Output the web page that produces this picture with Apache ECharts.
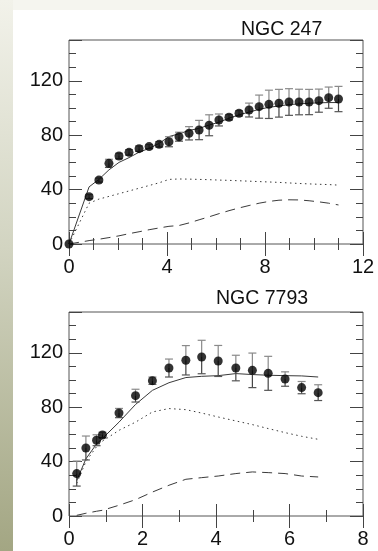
<!DOCTYPE html>
<html><head><meta charset="utf-8">
<script src="https://cdn.jsdelivr.net/npm/echarts@6/dist/echarts.min.js"></script>
<style>html,body{margin:0;padding:0;}#c{width:378px;height:551px;}</style>
</head><body><div id="c"></div>
<script>
// NGC 247
const titleA = 'NGC 247';
const xA = [0,0.82,1.22,1.63,2.04,2.45,2.86,3.27,3.68,4.08,4.49,4.9,5.31,5.72,6.12,6.53,6.94,7.35,7.76,8.16,8.57,8.98,9.39,9.8,10.2,10.6,11.0];
const vA = [0,34.8,47,59.3,64.7,67.4,70.1,71.6,73.3,75.2,78.9,81.4,83.8,87.3,91.2,93.2,96.1,98.5,101,102.7,103.5,104.4,104.4,104.4,105.4,107.6,106.6];
const eA = [0,1.5,1.5,3,2,2,2,1.5,2,3.7,3.3,4.9,7.1,7.7,4.4,2,2,5.1,8.5,10.4,10.2,9.8,9.4,9.3,8.5,7.8,9.3];
const totA = [0,42,47.5,54.5,60,63.5,67.5,70.3,74,79,81,83.5,85,87.5,89.5,92.5,95,97,99,100.5,101.5,102.5,103,103.5,103.8,104,104];
const diskA = [0,30,33,35,37,39,41,43,45,47.5,47.8,47.7,47.5,47.3,47,46.8,46.5,46.2,45.9,45.6,45.3,44.9,44.5,44.2,43.9,43.7,43.3];
const gasA = [0,2.5,3.5,4.7,6,7.6,9,10.5,11.8,13,13.6,15.5,17.8,20,22.3,24.5,26.5,28.3,30,31.3,32.2,32.5,32.4,31.8,31,30,28.7];
const xTicksA = [0,4,8,12];
// NGC 7793
const titleB = 'NGC 7793';
const xB = [0.21,0.46,0.75,0.91,1.36,1.81,2.27,2.72,3.18,3.61,4.06,4.54,4.99,5.42,5.88,6.33,6.78];
const vB = [31.2,50,55.7,59.6,75.7,88.5,99.5,108.8,114.5,116.9,114,108.8,107.1,104.9,100.7,94.4,90.7];
const eB = [9.2,8.8,4,2,3.4,4.7,2.7,6.6,10.8,12.3,11.4,9.4,12.7,12.5,5.3,4.5,5.8];
const totB = [26,42,53,57,69,82,92.4,98,101.8,102.7,103.2,104.7,104,103.5,103.2,103,102.2];
const diskB = [24,40,51,55,63,69,76.5,79,78.2,75.7,72.8,69.9,67.2,64.3,61.3,58.6,56.4];
const gasB = [0.5,2,3.5,4.2,7.9,12,17.6,22.6,27,28.2,29.4,31.2,32.4,31.9,31.2,29.4,28.7];
const xTicksB = [0,2,4,6,8];
const yTicks = [0,40,80,120];

const FONT = 'Liberation Sans, Arial, sans-serif';
const chart = echarts.init(document.getElementById('c'));
const pair = (xs, ys) => xs.map((x, i) => [x, ys[i]]);

function xAxes(gi, max, major, ticks) {
  const base = {gridIndex: gi, type: 'value', min: 0, max: max, axisLine: {show: false}, splitLine: {show: false}};
  return [
    Object.assign({}, base, {position: 'bottom', interval: major,
      axisTick: {inside: true, length: 12, lineStyle: {color: '#444'}},
      minorTick: {show: true, splitNumber: major, length: 6, lineStyle: {color: '#444'}},
      axisLabel: {margin: 13, fontSize: 20, color: '#111', fontFamily: FONT,
        formatter: v => ticks.indexOf(v) >= 0 ? String(v) : ''}}),
    Object.assign({}, base, {position: 'top', interval: major,
      axisTick: {inside: true, length: 12, lineStyle: {color: '#444'}},
      minorTick: {show: true, splitNumber: major, length: 6, lineStyle: {color: '#444'}},
      axisLabel: {show: false}})
  ];
}
function yAxes(gi) {
  const base = {gridIndex: gi, type: 'value', min: 0, max: 150, axisLine: {show: false}, splitLine: {show: false}};
  return [
    Object.assign({}, base, {position: 'left', interval: 40,
      axisTick: {inside: true, length: 13, lineStyle: {color: '#444'}},
      axisLabel: {margin: 6, fontSize: 20, color: '#111', fontFamily: FONT,
        formatter: v => yTicks.indexOf(v) >= 0 ? String(v) : ''}}),
    Object.assign({}, base, {position: 'left', interval: 10,
      axisTick: {inside: true, length: 7, lineStyle: {color: '#444'}}, axisLabel: {show: false}}),
    Object.assign({}, base, {position: 'right', interval: 40,
      axisTick: {inside: true, length: 13, lineStyle: {color: '#444'}}, axisLabel: {show: false}}),
    Object.assign({}, base, {position: 'right', interval: 10,
      axisTick: {inside: true, length: 7, lineStyle: {color: '#444'}}, axisLabel: {show: false}})
  ];
}

function errSeries(xi, yi, xs, vs, es) {
  return {
    type: 'custom', xAxisIndex: xi, yAxisIndex: yi, z: 3,
    data: xs.map((x, i) => [x, vs[i], es[i]]),
    renderItem: (params, api) => {
      const x = api.value(0), v = api.value(1), e = api.value(2);
      if (!e) return null;
      const top = api.coord([x, v + e]);
      const mid = api.coord([x, v]);
      const bot = api.coord([x, v - e]);
      const w = 4;
      return {type: 'group', children: [
        {type: 'line', shape: {x1: top[0], y1: top[1], x2: mid[0], y2: mid[1]}, style: {stroke: '#8a8a8a', lineWidth: 1.2}},
        {type: 'line', shape: {x1: top[0]-w, y1: top[1], x2: top[0]+w, y2: top[1]}, style: {stroke: '#8a8a8a', lineWidth: 1.2}},
        {type: 'line', shape: {x1: mid[0], y1: mid[1], x2: bot[0], y2: bot[1]}, style: {stroke: '#444', lineWidth: 1.2}},
        {type: 'line', shape: {x1: bot[0]-w, y1: bot[1], x2: bot[0]+w, y2: bot[1]}, style: {stroke: '#555', lineWidth: 1.2}}
      ]};
    }
  };
}
function lineS(xi, yi, xs, ys, type, dash) {
  return {type: 'line', xAxisIndex: xi, yAxisIndex: yi, data: pair(xs, ys), symbol: 'none', silent: true, z: 2,
    lineStyle: {color: '#3a3a3a', width: 1, type: dash || type}};
}
function dots(xi, yi, xs, vs) {
  return {type: 'scatter', xAxisIndex: xi, yAxisIndex: yi, data: pair(xs, vs), symbol: 'circle', symbolSize: 9, z: 4,
    itemStyle: {color: '#000'}};
}

const option = {
  animation: false,
  backgroundColor: '#fff',
  graphic: [
    {type: 'rect', z: -10, shape: {x: 0, y: 0, width: 378, height: 10}, style: {fill: '#f5f5ef'}},
    {type: 'rect', z: -9, shape: {x: 0, y: 0, width: 13, height: 551},
      style: {fill: new echarts.graphic.LinearGradient(0, 0, 0, 1, [
        {offset: 0, color: '#f2f2ea'}, {offset: 0.45, color: '#d2d4c1'}, {offset: 1, color: '#a3a683'}])}},
    {type: 'text', left: 241, top: 20, style: {text: titleA, font: '19.5px ' + FONT, fill: '#111'}},
    {type: 'text', left: 216, top: 289, style: {text: titleB, font: '19.5px ' + FONT, fill: '#111'}}
  ],
  grid: [
    {left: 69, top: 40, width: 294, height: 204, show: true, borderColor: '#555', borderWidth: 1, backgroundColor: 'transparent'},
    {left: 69, top: 312, width: 294, height: 204, show: true, borderColor: '#555', borderWidth: 1, backgroundColor: 'transparent'}
  ],
  xAxis: [].concat(xAxes(0, 12, 4, xTicksA), xAxes(1, 8, 2, xTicksB)),
  yAxis: [].concat(yAxes(0), yAxes(1)),
  series: [
    lineS(0, 0, xA, totA, 'solid'),
    lineS(0, 0, xA, diskA, 'dotted', [1.5, 3.5]),
    lineS(0, 0, xA, gasA, 'dashed', [10, 6]),
    errSeries(0, 0, xA, vA, eA),
    dots(0, 0, xA, vA),
    lineS(2, 4, xB, totB, 'solid'),
    lineS(2, 4, xB, diskB, 'dotted', [1.5, 3.5]),
    lineS(2, 4, xB, gasB, 'dashed', [10, 6]),
    errSeries(2, 4, xB, vB, eB),
    dots(2, 4, xB, vB)
  ]
};
chart.setOption(option);
</script>
</body></html>
